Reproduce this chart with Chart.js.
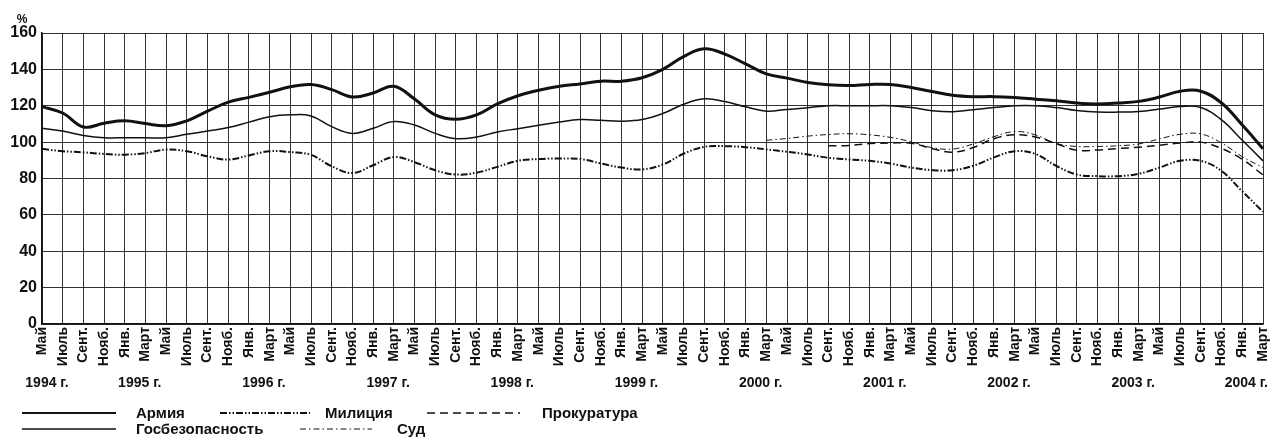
<!DOCTYPE html>
<html lang="ru">
<head>
<meta charset="utf-8">
<title>Доверие к институтам, %</title>
<script src="https://cdn.jsdelivr.net/npm/chart.js@4.4.1/dist/chart.umd.min.js"></script>
<style>
  html, body { margin: 0; padding: 0; background: #fff; }
  #wrap { position: relative; width: 1270px; height: 446px; }
</style>
</head>
<body>
<div id="wrap"><canvas id="chart"></canvas></div>
<script>
// every second month, May 1994 .. March 2004
const months = [
  'Май', 'Июль', 'Сент.', 'Нояб.',
  'Янв.', 'Март', 'Май', 'Июль', 'Сент.', 'Нояб.',
  'Янв.', 'Март', 'Май', 'Июль', 'Сент.', 'Нояб.',
  'Янв.', 'Март', 'Май', 'Июль', 'Сент.', 'Нояб.',
  'Янв.', 'Март', 'Май', 'Июль', 'Сент.', 'Нояб.',
  'Янв.', 'Март', 'Май', 'Июль', 'Сент.', 'Нояб.',
  'Янв.', 'Март', 'Май', 'Июль', 'Сент.', 'Нояб.',
  'Янв.', 'Март', 'Май', 'Июль', 'Сент.', 'Нояб.',
  'Янв.', 'Март', 'Май', 'Июль', 'Сент.', 'Нояб.',
  'Янв.', 'Март', 'Май', 'Июль', 'Сент.', 'Нояб.',
  'Янв.', 'Март'
];
const yearLabels = ['1994 г.', '1995 г.', '1996 г.', '1997 г.', '1998 г.', '1999 г.',
                    '2000 г.', '2001 г.', '2002 г.', '2003 г.', '2004 г.'];
const yearStarts = [0, 4, 10, 16, 22, 28, 34, 40, 46, 52, 58];

const army = [
  119.5, 116, 108.3, 110.4, 111.7, 110.2, 109, 111.7, 117, 122,
  124.6, 127.4, 130.4, 131.7, 128.9, 124.8, 127, 130.7, 123.7, 115,
  112.6, 115, 121, 125.5, 128.5, 130.7, 132, 133.5, 133.5, 135.4,
  140, 147, 151.3, 148.4, 143, 137.5, 135.2, 132.8, 131.5, 131.1,
  131.7, 131.7, 130, 127.8, 125.8, 125, 125, 124.5, 123.6, 122.7,
  121.5, 121, 121.5, 122.4, 124.8, 128, 128, 121.5, 109.4, 96.4
];
const gos = [
  107.6, 106.1, 103.7, 102.4, 102.4, 102.4, 102.4, 104.3, 106.1, 108,
  111, 114, 115, 114.4, 108.5, 104.8, 107.6, 111.3, 109.4, 104.8,
  101.9, 102.8, 105.6, 107.4, 109.3, 111.1, 112.4, 112, 111.5, 112.4,
  115.7, 120.8, 123.8, 122.3, 119.4, 117, 118, 118.9, 120, 120,
  120, 120, 119, 117.3, 116.7, 117.8, 119, 120, 120, 119,
  117.4, 116.5, 116.5, 116.9, 118.2, 119.6, 119, 112.2, 101, 89.7
];
const militia = [
  96.3, 95, 94.4, 93.5, 93.1, 94, 95.9, 95, 92.2, 90.4,
  92.7, 95, 94.5, 93, 86.7, 83, 87.3, 91.8, 89, 84.5,
  82.2, 83.2, 86.4, 89.7, 90.7, 91, 90.7, 88.3, 86, 85,
  87.7, 93.6, 97.4, 97.8, 97.2, 96, 94.7, 93.2, 91.4, 90.5,
  89.7, 88.2, 86, 84.6, 84.6, 87, 91.6, 95, 93.5, 87,
  82.2, 81.3, 81.3, 82.6, 86, 89.7, 89.7, 84.1, 72.9, 61.7
];
const court = [
  null, null, null, null, null, null, null, null, null, null,
  null, null, null, null, null, null, null, null, null, null,
  null, null, null, null, null, null, null, null, null, null,
  null, null, null, null, null, 101, 102, 103.3, 104.2, 104.6,
  104, 102.6, 100.2, 97, 96.2, 99, 103, 105.8, 104, 99.3,
  97.6, 97.6, 98, 99, 101.8, 104.3, 104.5, 99.5, 92, 86
];
const prosecutor = [
  null, null, null, null, null, null, null, null, null, null,
  null, null, null, null, null, null, null, null, null, null,
  null, null, null, null, null, null, null, null, null, null,
  null, null, null, null, null, null, null, null, 98, 98.2,
  99.2, 99.5, 99.4, 96.5, 94.5, 97, 101.9, 104, 102.8, 99.2,
  95.5, 95.7, 96.5, 97.2, 98.3, 99.5, 100, 96.5, 90.5, 82
];

const INK = '#111';
const FONT = '"Liberation Sans", Arial, sans-serif';

function line(label, data, width, dash) {
  return {
    label, data,
    borderColor: INK, borderWidth: width, borderDash: dash,
    pointRadius: 0, fill: false, tension: 0.4
  };
}

// axis extras: "%" caption, year captions under the month ticks, legend
const extras = {
  id: 'extras',
  afterDraw(chart) {
    const ctx = chart.ctx;
    const area = chart.chartArea;
    const x = chart.scales.x;
    ctx.save();
    ctx.fillStyle = INK;
    ctx.font = 'bold 12px ' + FONT;
    ctx.textAlign = 'center';
    ctx.textBaseline = 'middle';
    ctx.fillText('%', area.left - 20, area.top - 13);

    ctx.font = 'bold 14px ' + FONT;
    yearLabels.forEach((t, i) => {
      const w = ctx.measureText(t).width;
      let cx = x.getPixelForValue(yearStarts[i]) + (i === 0 ? 5 : 15);
      cx = Math.min(cx, chart.width - 2 - w / 2);
      ctx.fillText(t, cx, 383);
    });

    const items = [
      { ds: 0, x1: 22, x2: 116, y: 413, tx: 136 },
      { ds: 2, x1: 220, x2: 310, y: 413, tx: 325 },
      { ds: 4, x1: 427, x2: 520, y: 413, tx: 542 },
      { ds: 1, x1: 22, x2: 116, y: 429, tx: 136 },
      { ds: 3, x1: 300, x2: 372, y: 429, tx: 397 }
    ];
    ctx.font = 'bold 15px ' + FONT;
    ctx.textAlign = 'left';
    items.forEach(it => {
      const ds = chart.data.datasets[it.ds];
      ctx.strokeStyle = INK;
      ctx.lineWidth = Math.min(ds.borderWidth, 2.2);
      ctx.setLineDash(ds.borderDash || []);
      ctx.beginPath();
      ctx.moveTo(it.x1, it.y);
      ctx.lineTo(it.x2, it.y);
      ctx.stroke();
      ctx.setLineDash([]);
      ctx.fillText(ds.label, it.tx, it.y + 1);
    });
    ctx.restore();
  }
};

new Chart(document.getElementById('chart'), {
  type: 'line',
  data: {
    labels: months,
    datasets: [
      line('Армия', army, 3, []),
      line('Госбезопасность', gos, 1.5, []),
      line('Милиция', militia, 2, [7, 2, 1.5, 2, 1.5, 2]),
      line('Суд', court, 1, [6, 3, 1.5, 3]),
      line('Прокуратура', prosecutor, 1.5, [8, 5])
    ]
  },
  options: {
    responsive: true,
    maintainAspectRatio: false,
    animation: false,
    layout: { padding: { left: 0, right: 7, top: 33, bottom: 72 } },
    plugins: { legend: { display: false }, tooltip: { enabled: false } },
    scales: {
      x: {
        offset: false,
        afterFit(s) { s.height = 50; s.paddingLeft = 0; s.paddingRight = 0; },
        grid: { color: 'rgba(0,0,0,0.8)', lineWidth: 1, drawTicks: false },
        border: { color: INK, width: 1.5 },
        ticks: {
          autoSkip: false, maxRotation: 90, minRotation: 90, padding: 3,
          color: INK, font: { family: FONT, size: 14, weight: 'bold' }
        }
      },
      y: {
        min: 0, max: 160,
        afterFit(s) { s.width = 42; s.paddingTop = 0; s.paddingBottom = 0; },
        grid: { color: 'rgba(0,0,0,0.8)', lineWidth: 1, drawTicks: false },
        border: { color: INK, width: 1.5 },
        ticks: {
          stepSize: 20, padding: 5,
          color: INK, font: { family: FONT, size: 16, weight: 'bold' }
        }
      }
    }
  },
  plugins: [extras]
});
</script>
</body>
</html>
